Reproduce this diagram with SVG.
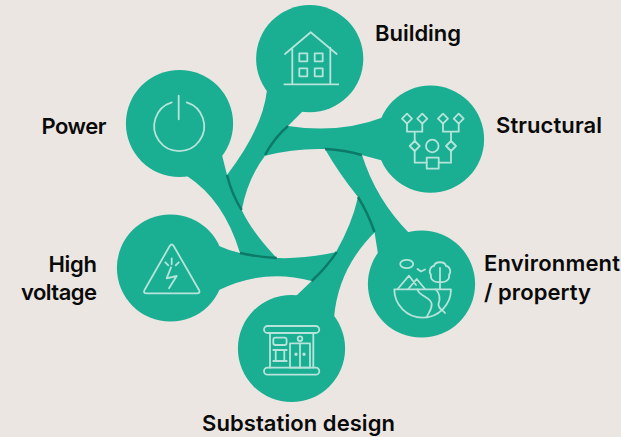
<svg xmlns="http://www.w3.org/2000/svg" width="621" height="437" viewBox="0 0 621 437">
<style>
.b{fill:#1aae93}
.d{fill:none;stroke:#0d7a68;stroke-width:2.4}
.i{fill:none;stroke:#b6e4da;stroke-width:1.8;stroke-linecap:round;stroke-linejoin:round}
.t{font-family:"Inter","Liberation Sans",sans-serif;font-weight:600;font-size:22px;fill:#0a0a0a}
</style>
<rect width="621" height="437" fill="#ebe6e1"/>
<g id="connectors">
<path class="b" d="M267,90 Q263,128 227,175 Q232,195 241.7,210 Q248,178 265,155.7 Q274,138 288,126 L304,110 Z"/>
<path class="b" d="M384,117 Q340,134 288,126 Q274,138 265,155.7 Q295,148 325,149 Q345,150 361.7,155 L384,161 Z"/>
<path class="b" d="M361.7,154 Q345,150 325,149 Q338,172 358,197 Q368,213 374.5,232 L378,254 L410,234 Q376,200 361.7,154 Z"/>
<path class="b" d="M376,231 Q368,213 358,197 Q352,224 336,252 Q326,268 311.7,281 L296,296 L334,318 Q338,268 376,231 Z"/>
<path class="b" d="M336.7,252 Q305,259 277,258 Q258,257 240,253 Q230,251 219,246 L219,290 Q264,268 311.7,281 Q326,268 336.7,252 Z"/>
<path class="b" d="M187,176 Q224,200 240,253 Q258,257 276.7,258 Q252,232 241.7,210 Q232,195 227,175 L222,155 Z"/>
<path class="d" d="M288,126 Q274,138 265,155"/>
<path class="d" d="M325,149 Q345,150 361.7,155"/>
<path class="d" d="M358,197 Q368,213 374.5,232"/>
<path class="d" d="M311.7,281 Q326,268 336.7,252"/>
<path class="d" d="M240,253 Q258,257 276.7,258"/>
<path class="d" d="M227,175 Q232,195 241.7,210"/>
</g>
<g id="building">
<circle class="b" cx="309.7" cy="58.7" r="53.6"/>
<path class="i" d="M285,54 L310.7,32.3 L336.7,54 M292.3,47.7 V84.3 M330.3,47.7 V84.3 M284.3,84.3 H338.3"/>
<rect class="i" x="299.3" y="53.3" width="8" height="8"/><rect class="i" x="314.7" y="53.3" width="8" height="8"/>
<rect class="i" x="299.3" y="68.3" width="8" height="8"/><rect class="i" x="314.7" y="68.3" width="8" height="8"/>
<text class="t" x="375" y="41" textLength="86">Building</text>
</g>
<g id="structural">
<circle class="b" cx="430.5" cy="139.2" r="53.6"/>
<path class="i" d="M407,113.7 L412,118.7 L407,123.7 L402,118.7 Z M422.3,113.7 L427.3,118.7 L422.3,123.7 L417.3,118.7 Z M443,113.7 L448,118.7 L443,123.7 L438,118.7 Z M458.7,113.7 L463.7,118.7 L458.7,123.7 L453.7,118.7 Z M414.7,141 L419.7,146 L414.7,151 L409.7,146 Z M451,141 L456,146 L451,151 L446,146 Z"/>
<path class="i" d="M407,123.7 V131.7 H422.3 V123.7 M414.7,131.7 V141 M443,123.7 V131.7 H458.7 V123.7 M451,131.7 V141 M414.7,151 V162.7 H426.7 M451,151 V162.7 H438.7"/>
<circle class="i" cx="432.3" cy="146" r="6.3"/>
<rect class="i" x="426.7" y="157.7" width="12" height="11"/>
<text class="t" x="496" y="133" textLength="106">Structural</text>
</g>
<g id="environment">
<circle class="b" cx="421.5" cy="284" r="53.6"/>
<path class="i" d="M394.3,289.3 H451 A28.3,28.3 0 0 1 394.3,289.3 Z"/>
<path class="i" d="M397.7,289 L409,275.7 L416,285 M408.3,289 L416.7,279 L425,289"/>
<ellipse class="i" cx="406.7" cy="264" rx="6.5" ry="4.2"/>
<path class="i" d="M417.5,269 L421,271.5 L425,269.5"/>
<path class="i" d="M440,289 V268 M440,282 C434,283 430,279 431,275 C428,271 431,266 434,266 C435,261 445,261 446,266 C449,266 452,271 449,275 C450,279 446,283 440,282"/>
<path class="i" d="M417.3,289.5 C420,297 431,297 431.7,304 C432,310 428,313 426.7,317.5 M436,289.5 C441,295 440,300 438.5,304 C438,309 443,310 445,313"/>
<text class="t" x="484" y="271" textLength="136">Environment</text>
<text class="t" x="484" y="300" textLength="107">/ property</text>
</g>
<g id="substation">
<circle class="b" cx="291.5" cy="348.5" r="53.6"/>
<rect class="i" x="264" y="326" width="55.3" height="7" rx="3.5"/>
<rect class="i" x="264" y="367.7" width="55.3" height="7" rx="3.5"/>
<path class="i" d="M270,333 V367.7 M313.3,333 V367.7"/>
<rect class="i" x="290" y="343.3" width="20" height="24.4"/>
<path class="i" d="M300,343.3 V367.7"/>
<circle class="i" cx="296" cy="354.3" r="0.8"/><circle class="i" cx="304" cy="354.3" r="0.8"/>
<circle class="i" cx="300" cy="338.7" r="2.3"/>
<rect class="i" x="273.3" y="337.7" width="13.3" height="7.3" rx="2"/>
<path class="i" d="M273.3,350 H286.7 M275.7,350 V361 M284.3,350 V361 M273.3,361 H286.7"/>
<text class="t" x="202" y="431" textLength="193">Substation design</text>
</g>
<g id="high-voltage">
<circle class="b" cx="170.5" cy="268" r="53.6"/>
<path class="i" d="M169.7,246 Q171.7,243 173.7,246 L199,290 Q200.5,293.3 197,293.3 H146.5 Q143,293.3 144.5,290 Z"/>
<path class="i" d="M171,267.3 L166.7,278.3 L176.7,276 L169,288.3 M171.7,258.3 V264.3 M165.3,262.3 L168.3,265.3 M178.7,262.3 L175.7,265.3"/>
<text class="t" x="48.5" y="271.5" textLength="48.5">High</text>
<text class="t" x="21" y="299.5" textLength="76">voltage</text>
</g>
<g id="power">
<circle class="b" cx="179.5" cy="123.5" r="53.6"/>
<path class="i" d="M171.7,102.3 A25,25 0 1 0 186.7,102.3 M178.7,95.7 V119.3"/>
<text class="t" x="41.5" y="133.5" textLength="65">Power</text>
</g>
</svg>
